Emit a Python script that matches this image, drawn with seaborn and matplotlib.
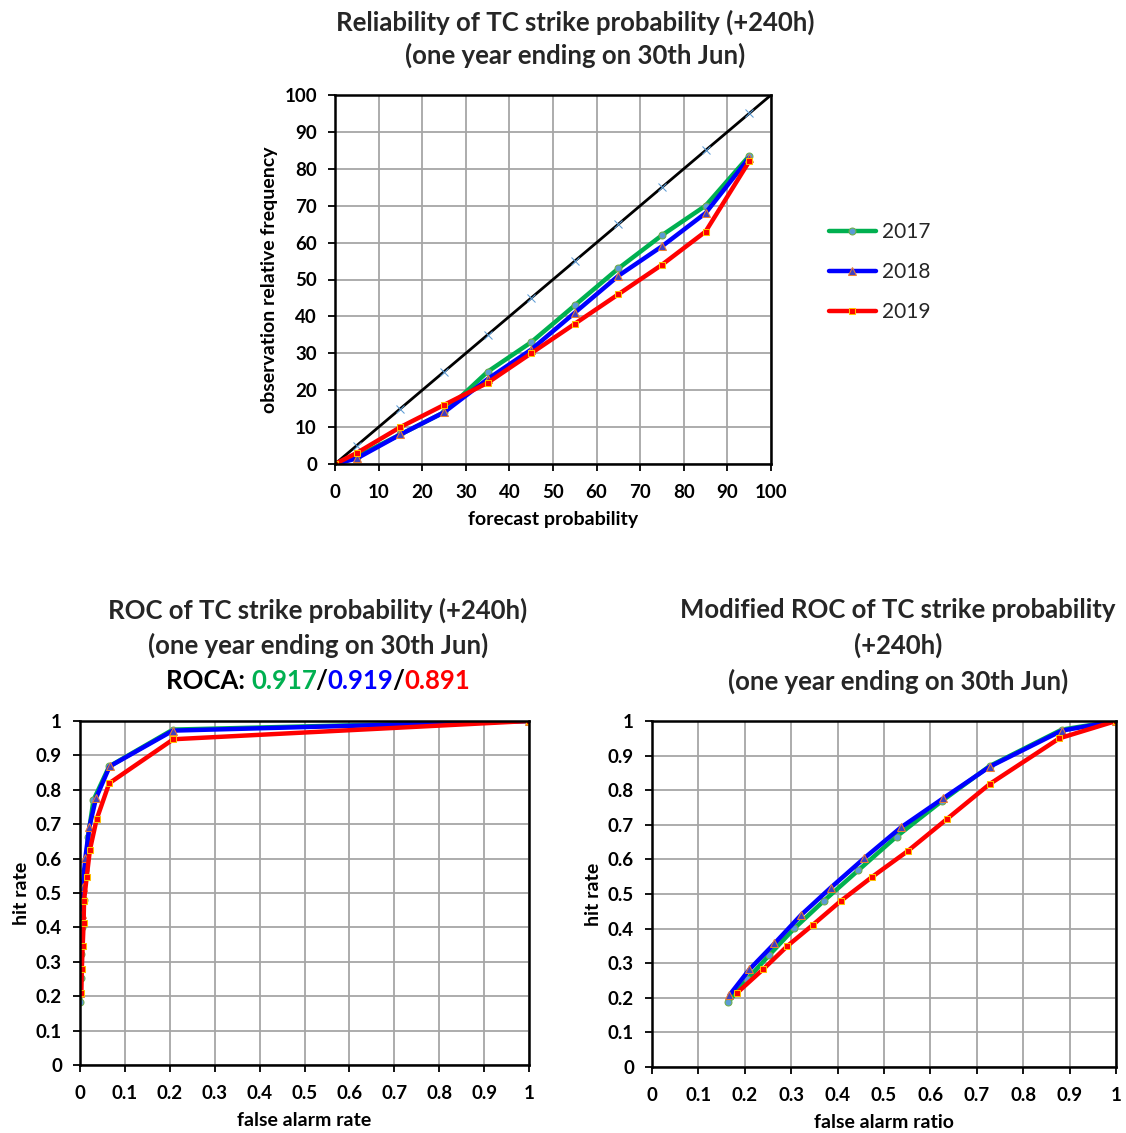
import numpy as np
import pandas as pd
import matplotlib
matplotlib.use("Agg")
import matplotlib.pyplot as plt
import seaborn as sns

sns.set_theme(style="white")
plt.rcParams['font.family'] = ['Lato', 'DejaVu Sans']

# ---------------- data ----------------
years = ["2017", "2018", "2019"]
colors = {"2017": "#00B050", "2018": "#0000FF", "2019": "#FF0000"}

rel_prob = [0, 5, 15, 25, 35, 45, 55, 65, 75, 85, 95]
rel_2017 = [0, 2, 8, 14, 25, 33, 43, 53, 62, 70, 83.5]
rel_2018 = [0, 1.5, 8, 14, 23, 31, 41, 51, 59, 68, 83]
rel_2019 = [0, 3, 10, 16, 22, 30, 38, 46, 54, 63, 82]
diag_x = [0, 5, 15, 25, 35, 45, 55, 65, 75, 85, 95, 100]

roc_far_2017 = [0.0005, 0.002, 0.003, 0.005, 0.008, 0.012, 0.018, 0.03, 0.065, 0.207, 1]
roc_hr_2017 = [0.184, 0.253, 0.323, 0.401, 0.481, 0.567, 0.664, 0.77, 0.868, 0.975, 1]
roc_far_2018 = [0.001, 0.0015, 0.003, 0.004, 0.006, 0.012, 0.021, 0.036, 0.066, 0.207, 1]
roc_hr_2018 = [0.208, 0.282, 0.357, 0.439, 0.518, 0.603, 0.693, 0.777, 0.868, 0.972, 1]
roc_far_2019 = [0.003, 0.004, 0.006, 0.008, 0.009, 0.015, 0.022, 0.037, 0.065, 0.208, 1]
roc_hr_2019 = [0.21, 0.279, 0.346, 0.412, 0.478, 0.547, 0.625, 0.714, 0.819, 0.947, 1]

mroc_far_2017 = [0.164, 0.205, 0.253, 0.307, 0.371, 0.445, 0.527, 0.626, 0.728, 0.883, 1]
mroc_hr_2017 = [0.187, 0.253, 0.324, 0.401, 0.481, 0.569, 0.666, 0.77, 0.87, 0.975, 1]
mroc_far_2018 = [0.167, 0.21, 0.264, 0.321, 0.385, 0.457, 0.537, 0.628, 0.728, 0.883, 1]
mroc_hr_2018 = [0.208, 0.282, 0.357, 0.439, 0.518, 0.603, 0.693, 0.777, 0.868, 0.972, 1]
mroc_far_2019 = [0.184, 0.24, 0.292, 0.346, 0.407, 0.475, 0.551, 0.635, 0.728, 0.878, 1]
mroc_hr_2019 = [0.215, 0.283, 0.35, 0.41, 0.48, 0.55, 0.624, 0.716, 0.818, 0.95, 1]

roca = {"2017": "0.917", "2018": "0.919", "2019": "0.891"}

marker_style = {
    "2017": dict(marker="o", markersize=5, markerfacecolor="#5B9BD5", markeredgecolor="#70AD47"),
    "2018": dict(marker="^", markersize=6, markerfacecolor="#4040C0", markeredgecolor="#ED7D31"),
    "2019": dict(marker="s", markersize=5, markerfacecolor="#FF0000", markeredgecolor="#FFC000"),
}

W, H = 1126, 1133
fig = plt.figure(figsize=(W / 100, H / 100), dpi=100)

TITLE = 18.5
TICK = 13.5
LAB = 14

def ax_rect(l, r, t, b):
    return [l / W, 1 - b / H, (r - l) / W, (b - t) / H]

lab_kw = dict(fontsize=LAB, fontweight="bold", color="black")

def style_ax(ax):
    ax.grid(True, color="#A6A6A6", linewidth=1.3)
    ax.set_axisbelow(True)
    for s in ax.spines.values():
        s.set_visible(True)
        s.set_color("black")
        s.set_linewidth(1.8)
    ax.tick_params(axis="both", direction="out", length=5, width=1.3, colors="black",
                   bottom=True, left=True)
    ax.tick_params(axis="x", pad=9.5)
    ax.tick_params(axis="y", pad=8)
    for lab in ax.get_xticklabels() + ax.get_yticklabels():
        lab.set_fontsize(TICK)
        lab.set_fontweight("bold")

def fmt(v):
    return "0" if v == 0 else ("1" if v == 1 else f"{v:.1f}")

# ---------------- reliability ----------------
ax1 = fig.add_axes(ax_rect(335, 771, 95, 464))
sns.lineplot(x=[0, 100], y=[0, 100], ax=ax1, color="black", linewidth=2)
sns.lineplot(x=diag_x[1:-1], y=diag_x[1:-1], ax=ax1, color="none", marker="x",
             markersize=6, markeredgecolor="#5B9BD5", linestyle="none")
rel = {"2017": rel_2017, "2018": rel_2018, "2019": rel_2019}
for y in years:
    sns.lineplot(x=rel_prob, y=rel[y], ax=ax1, color=colors[y], linewidth=3.2,
                 label=y, **marker_style[y])
ax1.set_xlim(0, 100)
ax1.set_ylim(0, 100)
ax1.set_xticks(range(0, 101, 10))
ax1.set_yticks(range(0, 101, 10))
ax1.set_xlabel("forecast probability", **lab_kw, labelpad=7)
ax1.set_ylabel("observation relative frequency", **lab_kw, labelpad=4.5)
h, l = ax1.get_legend_handles_labels()
ax1.get_legend().remove()
style_ax(ax1)
fig.legend(h, l, loc="center left", bbox_to_anchor=(810 / W, 1 - 272 / H), frameon=False,
           fontsize=15, handlelength=2.25, labelspacing=0.95, handletextpad=0.3)

fig.text(575 / W, 1 - 22 / H, "Reliability of TC strike probability (+240h)",
         ha="center", va="center", fontsize=TITLE, fontweight="bold")
fig.text(575 / W, 1 - 55 / H, "(one year ending on 30th Jun)",
         ha="center", va="center", fontsize=TITLE, fontweight="bold")

# ---------------- ROC ----------------
ax2 = fig.add_axes(ax_rect(80, 529, 721, 1065))
roc_far = {"2017": roc_far_2017, "2018": roc_far_2018, "2019": roc_far_2019}
roc_hr = {"2017": roc_hr_2017, "2018": roc_hr_2018, "2019": roc_hr_2019}
for y in years:
    sns.lineplot(x=roc_far[y], y=roc_hr[y], ax=ax2, color=colors[y], linewidth=3.2,
                 sort=False, **marker_style[y])
ticks = np.round(np.arange(0, 1.01, 0.1), 1)
ax2.set_xlim(0, 1)
ax2.set_ylim(0, 1)
ax2.set_xticks(ticks)
ax2.set_yticks(ticks)
ax2.set_xticklabels([fmt(v) for v in ticks])
ax2.set_yticklabels([fmt(v) for v in ticks])
ax2.set_xlabel("false alarm rate", **lab_kw, labelpad=7)
ax2.set_ylabel("hit rate", **lab_kw, labelpad=4.5)
style_ax(ax2)

fig.text(318 / W, 1 - 610 / H, "ROC of TC strike probability (+240h)",
         ha="center", va="center", fontsize=TITLE, fontweight="bold")
fig.text(318 / W, 1 - 645 / H, "(one year ending on 30th Jun)",
         ha="center", va="center", fontsize=TITLE, fontweight="bold")

parts = [("ROCA: ", "black", 0), (roca["2017"], colors["2017"], 0), ("/", "black", -1.5),
         (roca["2018"], colors["2018"], 0), ("/", "black", -1.5), (roca["2019"], colors["2019"], 0)]
fig.canvas.draw()
renderer = fig.canvas.get_renderer()
texts = []
for s, c, dx in parts:
    t = fig.text(0, 1 - 681 / H, s, ha="left", va="center", fontsize=TITLE,
                 fontweight="bold", color=c)
    texts.append((t, dx))
widths = [t.get_window_extent(renderer).width + dx for t, dx in texts]
total = sum(widths)
cur = 318 - total / 2
for (t, dx), w in zip(texts, widths):
    t.set_position(((cur + dx) / W, 1 - 681 / H))
    cur += w

# ---------------- Modified ROC ----------------
ax3 = fig.add_axes(ax_rect(652, 1116, 721, 1067))
mroc_far = {"2017": mroc_far_2017, "2018": mroc_far_2018, "2019": mroc_far_2019}
mroc_hr = {"2017": mroc_hr_2017, "2018": mroc_hr_2018, "2019": mroc_hr_2019}
for y in years:
    sns.lineplot(x=mroc_far[y], y=mroc_hr[y], ax=ax3, color=colors[y], linewidth=3.2,
                 sort=False, **marker_style[y])
ax3.set_xlim(0, 1)
ax3.set_ylim(0, 1)
ax3.set_xticks(ticks)
ax3.set_yticks(ticks)
ax3.set_xticklabels([fmt(v) for v in ticks])
ax3.set_yticklabels([fmt(v) for v in ticks])
ax3.set_xlabel("false alarm ratio", **lab_kw, labelpad=7)
ax3.set_ylabel("hit rate", **lab_kw, labelpad=4.5)
style_ax(ax3)

fig.text(898 / W, 1 - 610 / H, "Modified ROC of TC strike probability",
         ha="center", va="center", fontsize=TITLE, fontweight="bold")
fig.text(898 / W, 1 - 645 / H, "(+240h)",
         ha="center", va="center", fontsize=TITLE, fontweight="bold")
fig.text(898 / W, 1 - 681 / H, "(one year ending on 30th Jun)",
         ha="center", va="center", fontsize=TITLE, fontweight="bold")

fig.savefig("out.png", dpi=100, facecolor="white")
